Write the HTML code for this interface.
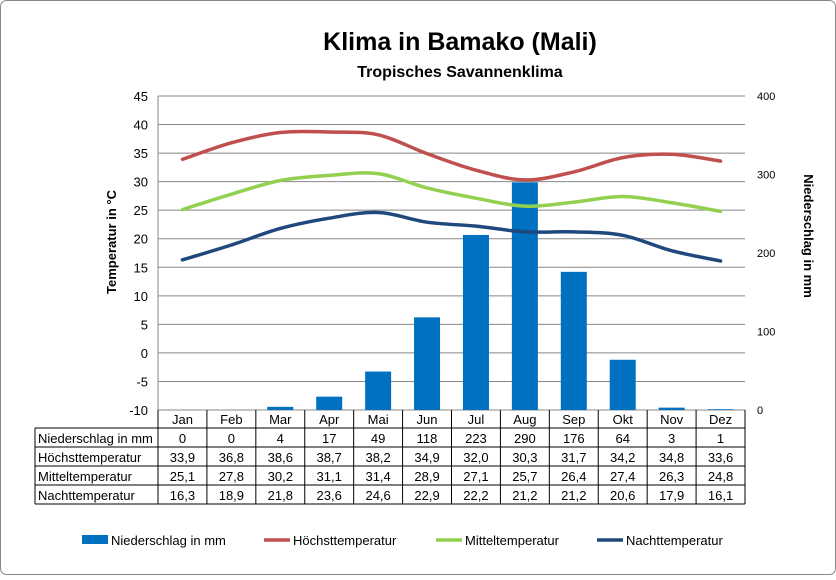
<!DOCTYPE html>
<html><head><meta charset="utf-8"><style>
body{margin:0;background:#fff;}
svg text{font-family:"Liberation Sans",Arial,sans-serif;}
</style></head><body>
<svg id="c" width="836" height="575" viewBox="0 0 836 575" xmlns="http://www.w3.org/2000/svg">
<rect x="0.5" y="0.5" width="835" height="574" rx="6" fill="#fff" stroke="#888"/>
<text x="460" y="50" font-size="25" font-weight="bold" text-anchor="middle">Klima in Bamako (Mali)</text>
<text x="460" y="77" font-size="16" font-weight="bold" text-anchor="middle">Tropisches Savannenklima</text>
<text transform="translate(116,242) rotate(-90)" font-size="13" font-weight="bold" text-anchor="middle">Temperatur in °C</text>
<text transform="translate(804,236) rotate(90)" font-size="13" font-weight="bold" text-anchor="middle">Niederschlag in mm</text>
<g id="grid"></g><g id="bars"></g><g id="lines"></g><g id="table"></g><g id="legend"></g>
</svg>
<script>
const months=["Jan","Feb","Mar","Apr","Mai","Jun","Jul","Aug","Sep","Okt","Nov","Dez"];
const rain=[0,0,4,17,49,118,223,290,176,64,3,1];
const tmax=[33.9,36.8,38.6,38.7,38.2,34.9,32.0,30.3,31.7,34.2,34.8,33.6];
const tmid=[25.1,27.8,30.2,31.1,31.4,28.9,27.1,25.7,26.4,27.4,26.3,24.8];
const tmin=[16.3,18.9,21.8,23.6,24.6,22.9,22.2,21.2,21.2,20.6,17.9,16.1];
const leftTicks=[45,40,35,30,25,20,15,10,5,0,-5,-10];
const rightTicks=[400,300,200,100,0];
const NS="http://www.w3.org/2000/svg";
const L=158,R=745,T=96,B=410;
const cw=(R-L)/months.length;
const xc=i=>L+cw*(i+0.5);
const yT=v=>B-(v+10)/55*(B-T);
const yR=v=>B-v/400*(B-T);
function mk(tag,attrs,parent,text){const e=document.createElementNS(NS,tag);for(const k in attrs)e.setAttribute(k,attrs[k]);if(text!==undefined)e.textContent=text;parent.appendChild(e);return e;}
const grid=document.getElementById('grid');
leftTicks.forEach(v=>{const g=mk('line',{x1:L,x2:R,y1:yT(v),y2:yT(v),stroke:'#888','stroke-width':1},grid);

const t=mk('text',{x:148,y:yT(v)+5,'font-size':13,'text-anchor':'end'},grid,String(v));
});
rightTicks.forEach(v=>{const t=mk('text',{x:757,y:yR(v)+4,'font-size':11},grid,String(v));
});
mk('line',{x1:L,x2:L,y1:T,y2:B,stroke:'#888'},grid);
const bars=document.getElementById('bars');
rain.forEach((v,i)=>{const h=B-yR(v);const r=mk('rect',{x:xc(i)-13,y:yR(v),width:26,height:Math.max(h,0),fill:'#0070c0'},bars);
});
function smooth(vals){const p=vals.map((v,i)=>[xc(i),yT(v)]);let d='M'+p[0][0]+','+p[0][1];
for(let i=0;i<p.length-1;i++){const p0=p[i-1]||p[i],p1=p[i],p2=p[i+1],p3=p[i+2]||p2;
const c1=[p1[0]+(p2[0]-p0[0])/6,p1[1]+(p2[1]-p0[1])/6],c2=[p2[0]-(p3[0]-p1[0])/6,p2[1]-(p3[1]-p1[1])/6];
d+=' C'+c1+' '+c2+' '+p2;}return d;}
const lines=document.getElementById('lines');
[[tmax,'#c0504d','line-hoechsttemperatur'],[tmid,'#92d050','line-mitteltemperatur'],[tmin,'#1f497d','line-nachttemperatur']].forEach(s=>{
const p=mk('path',{d:smooth(s[0]),fill:'none',stroke:s[1],'stroke-width':3.5,'stroke-linecap':'round'},lines);
});
// table
const tb=document.getElementById('table');
const rows=[["Niederschlag in mm",rain.map(String)],["Höchsttemperatur",tmax.map(v=>v.toFixed(1).replace('.',','))],["Mitteltemperatur",tmid.map(v=>v.toFixed(1).replace('.',','))],["Nachttemperatur",tmin.map(v=>v.toFixed(1).replace('.',','))]];
const rh=19,rt=428;
months.forEach((m,i)=>{const t=mk('text',{x:xc(i),y:424,'font-size':13,'text-anchor':'middle'},tb,m);
});
for(let i=0;i<=months.length;i++){mk('line',{x1:L+cw*i,x2:L+cw*i,y1:B,y2:rt+rh*4,stroke:'#000','stroke-width':1},tb);}
mk('line',{x1:35,x2:35,y1:rt,y2:rt+rh*4,stroke:'#000'},tb);
for(let r=0;r<=4;r++){mk('line',{x1:35,x2:R,y1:rt+rh*r,y2:rt+rh*r,stroke:'#000'},tb);}
rows.forEach((row,r)=>{const y=rt+rh*r+15;
const h=mk('text',{x:38,y:y,'font-size':13},tb,row[0]);
row[1].forEach((v,i)=>{const t=mk('text',{x:xc(i),y:y,'font-size':13,'text-anchor':'middle'},tb,v);
});});
// legend
const lg=document.getElementById('legend');
[["Niederschlag in mm",'#0070c0',82,'bar'],["Höchsttemperatur",'#c0504d',264,'line'],["Mitteltemperatur",'#92d050',436,'line'],["Nachttemperatur",'#1f497d',597,'line']].forEach(e=>{
const g=mk('g',{},lg);
if(e[3]==='bar')mk('rect',{x:e[2],y:535,width:26,height:9,fill:e[1]},g);
else mk('line',{x1:e[2],x2:e[2]+26,y1:540,y2:540,stroke:e[1],'stroke-width':3.5},g);
mk('text',{x:e[2]+29,y:545,'font-size':13},g,e[0]);});
</script>
</body></html>
